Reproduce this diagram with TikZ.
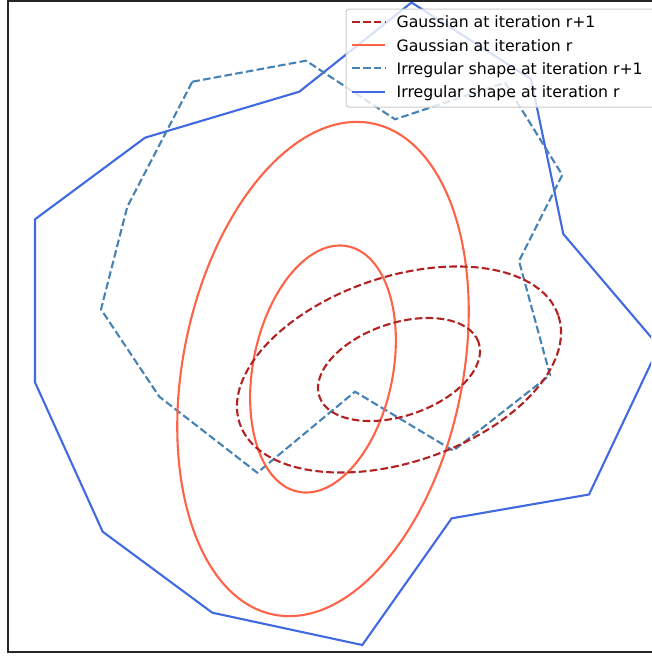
\documentclass[tikz,border=0pt]{standalone}
\usepackage{fontspec}
\setmainfont{DejaVu Sans}
\definecolor{firebrick}{HTML}{B22222}
\definecolor{tomatoc}{HTML}{FF6347}
\definecolor{steelblue}{HTML}{4682B4}
\definecolor{royalblue}{HTML}{4169E1}
\begin{document}
\begin{tikzpicture}[x=1pt,y=-1pt,
  plotline/.style={line width=2.1pt, line join=miter},
  dashline/.style={plotline, dash pattern=on 7.6pt off 3.3pt},
  gaussnew/.style={dashline, draw=firebrick},
  gaussold/.style={plotline, draw=tomatoc},
  shapenew/.style={dashline, draw=steelblue},
  shapeold/.style={plotline, draw=royalblue},
  legtext/.style={anchor=base west, inner sep=0pt, font=\fontsize{15.7pt}{18pt}\selectfont, text=black},
  legbox/.style={draw=black!20, line width=1pt, fill=white, fill opacity=0.8, rounded corners=3pt}
]
\path[use as bounding box] (0,0) rectangle (651,656);
\begin{scope}
\clip (8,1) rectangle (651,652);
% irregular shape at iteration r
\draw[shapeold] (35,219.3) -- (145,137.7) -- (299.3,91.7) -- (411.5,2.5) -- (531,79)
  -- (563.3,234) -- (659,346.5) -- (589,494.5) -- (451.7,518.3) -- (362.3,645)
  -- (212.3,612.7) -- (102.7,531.7) -- (35,382.3) -- cycle;
% irregular shape at iteration r+1
\draw[shapenew] (192.3,81.7) -- (306,60.7) -- (395,119.3) -- (505,82.7) -- (562.3,175)
  -- (519,261) -- (550,375) -- (453.3,450.7) -- (355,391.7) -- (257.3,472.7)
  -- (159.3,396.7) -- (101,309.3) -- (127.3,206.7) -- cycle;
% Gaussian at iteration r
\draw[gaussold, rotate around={78.6:(323,369)}] (323,369) ellipse [x radius=250.5pt, y radius=139.8pt];
\draw[gaussold, rotate around={78.6:(323,369)}] (323,369) ellipse [x radius=125.2pt, y radius=69.9pt];
% Gaussian at iteration r+1
\draw[gaussnew, rotate around={18.75:(399,369.5)}] (399,369.5) ellipse [x radius=168.2pt, y radius=92.6pt];
\draw[gaussnew, rotate around={18.75:(399,369.5)}] (399,369.5) ellipse [x radius=84.1pt, y radius=46.3pt];
\end{scope}
% axes frame
\draw[line width=1.1pt, draw=black!85] (660,1) -- (8,1) -- (8,652) -- (660,652);
% legend
\path[legbox] (346,9) rectangle (665,107);
\draw[gaussnew] (352,21.7) -- (385,21.7);
\draw[gaussold] (352,45) -- (385,45);
\draw[shapenew] (352,68.3) -- (385,68.3);
\draw[shapeold] (352,91.7) -- (385,91.7);
\node[legtext] (l1) at (396.5,27.7) {Gaussian at iteration r+1};
\node[legtext] (l2) at (396.5,51) {Gaussian at iteration r};
\node[legtext] (l3) at (396.5,74.3) {Irregular shape at iteration r+1};
\node[legtext] (l4) at (396.5,97.6) {Irregular shape at iteration r};
\end{tikzpicture}
\end{document}
